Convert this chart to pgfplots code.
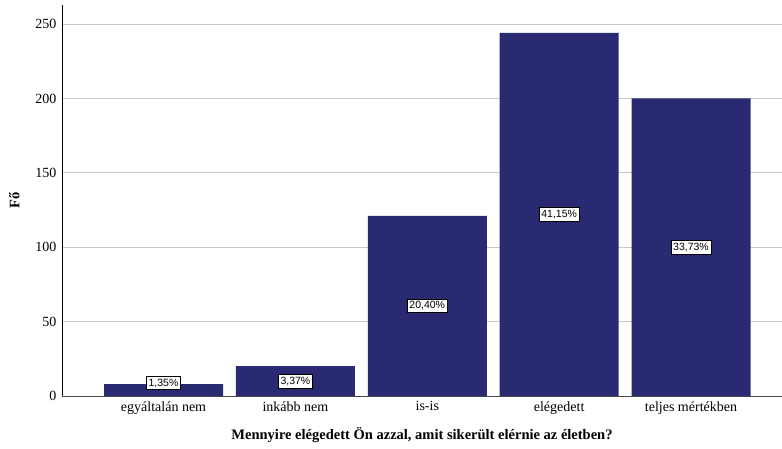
\documentclass[border=0pt]{standalone}
\usepackage{fontspec}
\setmainfont{Liberation Serif}
\newfontfamily\arialfont{Liberation Sans}
\usepackage{pgfplots}
\pgfplotsset{compat=1.18}
\definecolor{barblue}{RGB}{41,42,114}
\definecolor{gridgray}{RGB}{200,200,200}
\begin{document}
\begin{tikzpicture}
\begin{axis}[
  at={(0,0)}, anchor=south west,
  scale only axis,
  width=720pt, height=391pt,
  xmin=-0.77, xmax=4.69,
  ymin=0, ymax=262.8,
  axis x line=bottom, axis y line=left,
  axis line style={-},
  x axis line style={black!70},
  y axis line style={black},
  xtick={0,1,2,3,4},
  xticklabels={egyáltalán nem, inkább nem, is-is, elégedett, teljes mértékben},
  ytick={0,50,100,150,200,250},
  major tick length=0pt,
  ymajorgrids,
  grid style={gridgray, line width=0.8pt},
  tick label style={font=\fontsize{14}{16}\selectfont},
  /pgf/number format/assume math mode=true,
  yticklabel style={xshift=-2pt},
  xticklabel style={yshift=-2pt},
  xlabel={\textbf{Mennyire elégedett Ön azzal, amit sikerült elérnie az életben?}},
  ylabel={\textbf{Fő}},
  label style={font=\fontsize{14.5}{16}\selectfont},
  xlabel style={yshift=-6pt},
  ylabel style={yshift=9pt},
  clip=false,
]
\addplot[ybar, bar width=119pt, fill=barblue, draw=none] coordinates {
  (0,8) (1,20) (2,121) (3,244) (4,200)
};
\addplot[only marks, mark=none,
  point meta=explicit symbolic,
  nodes near coords,
  nodes near coords align=center,
  every node near coord/.style={fill=white, draw=black, line width=0.6pt,
     inner xsep=2pt, inner ysep=2.4pt, font=\arialfont\fontsize{10.5}{12}\selectfont, anchor=center}
] coordinates {
  (0,8.7) [1,35\%]
  (1,10) [3,37\%]
  (2,60.5) [20,40\%]
  (3,122) [41,15\%]
  (4,100) [33,73\%]
};
\end{axis}
\pgfresetboundingbox
\path[use as bounding box] (-62pt,-52pt) rectangle (720pt,396pt);
\end{tikzpicture}
\end{document}
